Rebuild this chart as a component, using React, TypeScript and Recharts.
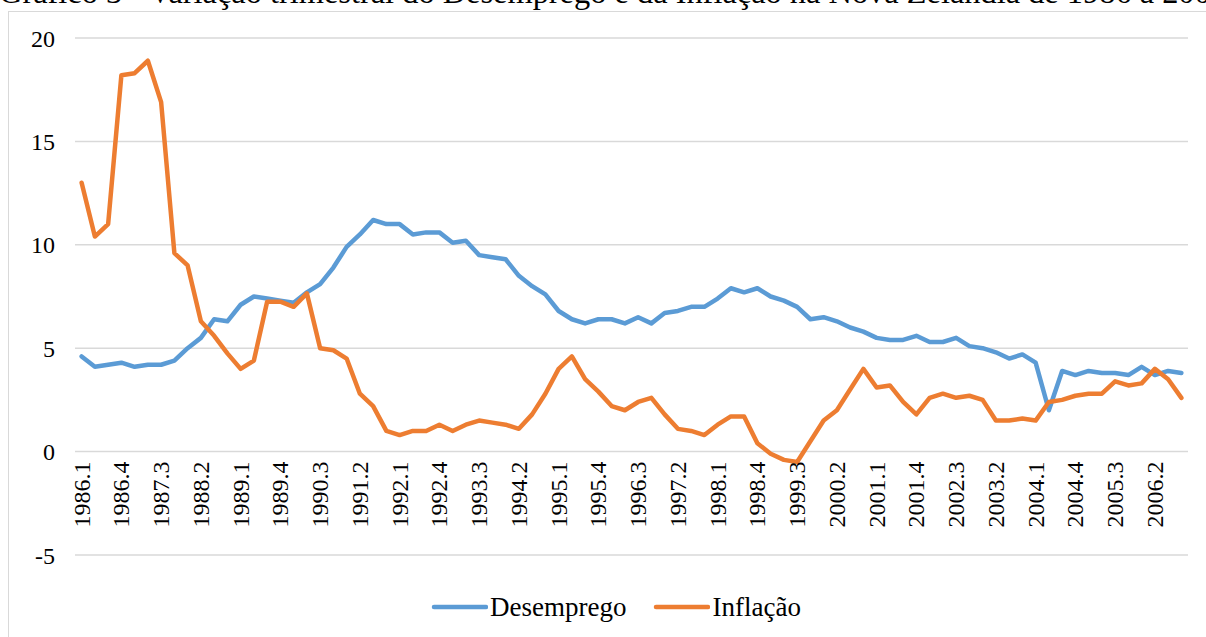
import React from 'react';
import { LineChart, Line, XAxis, YAxis, CartesianGrid } from 'recharts';

const quarters = [
  '1986.1', '1986.2', '1986.3', '1986.4', '1987.1', '1987.2', '1987.3', '1987.4',
  '1988.1', '1988.2', '1988.3', '1988.4', '1989.1', '1989.2', '1989.3', '1989.4',
  '1990.1', '1990.2', '1990.3', '1990.4', '1991.1', '1991.2', '1991.3', '1991.4',
  '1992.1', '1992.2', '1992.3', '1992.4', '1993.1', '1993.2', '1993.3', '1993.4',
  '1994.1', '1994.2', '1994.3', '1994.4', '1995.1', '1995.2', '1995.3', '1995.4',
  '1996.1', '1996.2', '1996.3', '1996.4', '1997.1', '1997.2', '1997.3', '1997.4',
  '1998.1', '1998.2', '1998.3', '1998.4', '1999.1', '1999.2', '1999.3', '1999.4',
  '2000.1', '2000.2', '2000.3', '2000.4', '2001.1', '2001.2', '2001.3', '2001.4',
  '2002.1', '2002.2', '2002.3', '2002.4', '2003.1', '2003.2', '2003.3', '2003.4',
  '2004.1', '2004.2', '2004.3', '2004.4', '2005.1', '2005.2', '2005.3', '2005.4',
  '2006.1', '2006.2', '2006.3', '2006.4',
];

const desemprego = [
  4.6, 4.1, 4.2, 4.3, 4.1, 4.2, 4.2, 4.4,
  5.0, 5.5, 6.4, 6.3, 7.1, 7.5, 7.4, 7.3,
  7.2, 7.7, 8.1, 8.9, 9.9, 10.5, 11.2, 11.0,
  11.0, 10.5, 10.6, 10.6, 10.1, 10.2, 9.5, 9.4,
  9.3, 8.5, 8.0, 7.6, 6.8, 6.4, 6.2, 6.4,
  6.4, 6.2, 6.5, 6.2, 6.7, 6.8, 7.0, 7.0,
  7.4, 7.9, 7.7, 7.9, 7.5, 7.3, 7.0, 6.4,
  6.5, 6.3, 6.0, 5.8, 5.5, 5.4, 5.4, 5.6,
  5.3, 5.3, 5.5, 5.1, 5.0, 4.8, 4.5, 4.7,
  4.3, 2.0, 3.9, 3.7, 3.9, 3.8, 3.8, 3.7,
  4.1, 3.7, 3.9, 3.8,
];

const inflacao = [
  13.0, 10.4, 11.0, 18.2, 18.3, 18.9, 16.9, 9.6,
  9.0, 6.3, 5.6, 4.75, 4.0, 4.4, 7.25, 7.25,
  7.0, 7.65, 5.0, 4.9, 4.5, 2.8, 2.2, 1.0,
  0.8, 1.0, 1.0, 1.3, 1.0, 1.3, 1.5, 1.4,
  1.3, 1.1, 1.8, 2.8, 4.0, 4.6, 3.5, 2.9,
  2.2, 2.0, 2.4, 2.6, 1.8, 1.1, 1.0, 0.8,
  1.3, 1.7, 1.7, 0.4, -0.1, -0.4, -0.5, 0.5,
  1.5, 2.0, 3.0, 4.0, 3.1, 3.2, 2.4, 1.8,
  2.6, 2.8, 2.6, 2.7, 2.5, 1.5, 1.5, 1.6,
  1.5, 2.4, 2.5, 2.7, 2.8, 2.8, 3.4, 3.2,
  3.3, 4.0, 3.5, 2.6,
];

const yTicks = [-5, 0, 5, 10, 15, 20];
const seriesKeys = ['desemprego', 'inflacao'];
const seriesNames = ['Desemprego', 'Inflação'];
const seriesColors = ['#5B9BD5', '#ED7D31'];
const titleText =
  'Gráfico 3 - Variação trimestral do Desemprego e da Inflação na Nova Zelândia de 1986 a 2006';

const data = quarters.map((q, i) => ({
  q,
  desemprego: desemprego[i],
  inflacao: inflacao[i],
}));

const W = 1206;
const H = 637;
const FONT = '"Liberation Serif", "Times New Roman", serif';
const MARGIN = { top: 38, right: 18, bottom: 0, left: 0 };
const Y_AXIS_W = 75;
const X_AXIS_H = 82;
const Y_MIN = -5;
const Y_MAX = 20;
const PLOT_W = W - MARGIN.left - MARGIN.right - Y_AXIS_W;
const PLOT_H = H - MARGIN.top - MARGIN.bottom - X_AXIS_H;
const PLOT_BOTTOM = MARGIN.top + PLOT_H;
const ZERO_Y = PLOT_BOTTOM - (PLOT_H * (0 - Y_MIN)) / (Y_MAX - Y_MIN);
const HALF_BAND = PLOT_W / (2 * quarters.length);

const XTick = (props: any) => {
  const { x, payload } = props;
  const y0 = ZERO_Y + 10;
  return (
    <text
      x={x}
      y={y0}
      transform={`rotate(-90 ${x} ${y0})`}
      textAnchor="end"
      dominantBaseline="central"
      fill="#000"
      fontSize={24}
      fontFamily={FONT}
    >
      {payload.value}
    </text>
  );
};

const LegendBox = () => (
  <div
    style={{
      position: 'absolute',
      left: 430,
      top: 592,
      display: 'flex',
      alignItems: 'center',
      fontFamily: FONT,
      fontSize: 27,
      lineHeight: '30px',
      color: '#000',
      whiteSpace: 'nowrap',
    }}
  >
    {seriesNames.map((name, i) => (
      <div key={name} style={{ display: 'flex', alignItems: 'center', marginRight: 26 }}>
        <svg width={58} height={12} style={{ marginRight: 2 }}>
          <line
            x1={4}
            y1={6}
            x2={56}
            y2={6}
            stroke={seriesColors[i]}
            strokeWidth={4.5}
            strokeLinecap="round"
          />
        </svg>
        <span>{name}</span>
      </div>
    ))}
  </div>
);

export default function App() {
  return (
    <div
      style={{
        position: 'fixed',
        left: 0,
        top: 0,
        width: W,
        height: H,
        overflow: 'hidden',
        background: '#fff',
      }}
    >
      <div
        style={{
          position: 'absolute',
          left: 8,
          top: 11,
          width: W,
          height: H,
          border: '1.5px solid #d9d9d9',
        }}
      />
      <svg
        width={W}
        height={30}
        style={{ position: 'absolute', left: 0, top: 0 }}
      >
        <text x={-1} y={3} fontFamily={FONT} fontSize={32.4} fill="#000">
          {titleText}
        </text>
      </svg>
      <div style={{ position: 'absolute', left: 0, top: 0 }}>
        <LineChart width={W} height={H} data={data} margin={MARGIN}>
          <CartesianGrid vertical={false} stroke="#d9d9d9" strokeWidth={1.5} />
          <XAxis
            dataKey="q"
            height={X_AXIS_H}
            interval={2}
            axisLine={false}
            tickLine={false}
            tick={<XTick />}
            padding={{ left: HALF_BAND, right: HALF_BAND }}
          />
          <YAxis
            width={Y_AXIS_W}
            domain={[Y_MIN, Y_MAX]}
            ticks={yTicks}
            interval={0}
            axisLine={false}
            tickLine={false}
            tickSize={0}
            tickMargin={20}
            tick={{ fill: '#000', fontSize: 24, fontFamily: FONT }}
          />
          {seriesKeys.map((k, i) => (
            <Line
              key={k}
              type="linear"
              dataKey={k}
              name={seriesNames[i]}
              stroke={seriesColors[i]}
              strokeWidth={4.5}
              strokeLinejoin="round"
              strokeLinecap="round"
              dot={false}
              activeDot={false}
              isAnimationActive={false}
            />
          ))}
        </LineChart>
      </div>
      <LegendBox />
    </div>
  );
}
